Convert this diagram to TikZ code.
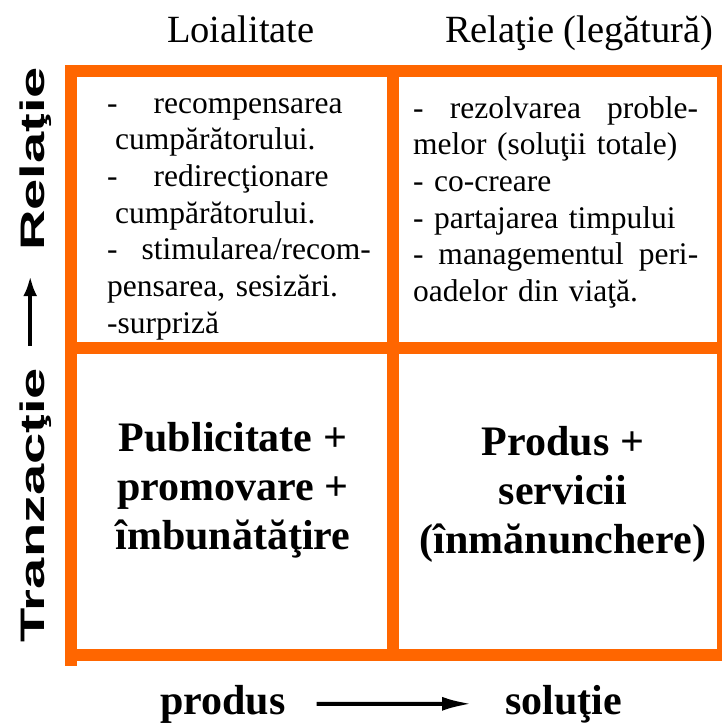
\documentclass[tikz,border=0pt]{standalone}
\usepackage{fontspec}
\setmainfont{Liberation Serif}
\setsansfont{Liberation Sans}
\usetikzlibrary{arrows.meta}
\definecolor{portocaliu}{RGB}{255,102,0}

\begin{document}
\begin{tikzpicture}[x=1pt, y=-1pt,
  grila/.style={draw=portocaliu, line width=12pt},
  titlu/.style={inner sep=0pt, anchor=base west, font=\fontsize{38.5}{44}\selectfont},
  celula/.style={inner sep=0pt, anchor=base west, align=left, font=\fontsize{31.5}{36.7}\selectfont},
  bloc/.style={inner sep=0pt, anchor=base, align=center, font=\fontsize{42}{49}\selectfont\bfseries},
  axa/.style={inner sep=0pt, anchor=base west, font=\fontsize{42}{49}\selectfont\bfseries},
  axav/.style={inner sep=0pt, anchor=base, rotate=90, font=\fontsize{34}{40}\selectfont\sffamily\bfseries},
  sageata/.style={line width=4pt, -{Latex[length=30pt, width=14pt]}}]

\useasboundingbox (0,0) rectangle (722,724);

%% GRILA
\draw[grila] (71,71) rectangle (723,655);
\draw[grila] (71,65) -- (71,666);
\draw[grila] (393,77) -- (393,649);
\draw[grila] (77,348) -- (723,348);

% Titluri coloane
\node[titlu] at (167,42) (loial) {Loialitate};
\node[titlu] at (445,42) (relatie) {Relaţie (legătură)};

% Celule de sus
\node[celula, text width=270pt] at (107,113) (c11)
{-\hspace{36pt}recompensarea\\
\hspace*{8pt}cumpărătorului.\\
-\hspace{36pt}redirecţionare\\
\hspace*{8pt}cumpărătorului.\\
-\hspace{24pt}stimularea/recom-\\
pensarea, sesizări.\\
-surpriză};

\node[celula, text width=285pt] at (413,118) (c12)
{-\hfill rezolvarea\hfill proble-\\
melor (soluţii totale)\\
- co-creare\\
- partajarea timpului\\
-\hfill managementul\hfill peri-\\
oadelor din viaţă.};

% Celule de jos (ancora = ultimul rand)
\node[bloc] at (233,549) (c21) {Publicitate +\\ promovare +\\ îmbunătăţire};
\node[bloc] at (563,553) (c22) {Produs +\\ servicii\\ (înmănunchere)};

%% AXE
% Axa verticala
\node[axav] at (45,505) (tranz) {\scalebox{1.65}[1]{Tranzacţie}};
\node[axav] at (45,159) (rel) {\scalebox{1.65}[1]{Relaţie}};
\draw[sageata, -{Latex[length=20pt, width=14pt]}, shorten <=22pt, shorten >=25pt]
  ([xshift=-6pt]tranz.east) -- ([xshift=-6pt]rel.west);

% Axa orizontala
\node[axa] at (160,714) (produs) {produs};
\node[axa] at (505,714) (solutie) {soluţie};
\draw[sageata, shorten <=31pt, shorten >=33pt] (produs) -- (solutie);

\end{tikzpicture}
\end{document}
